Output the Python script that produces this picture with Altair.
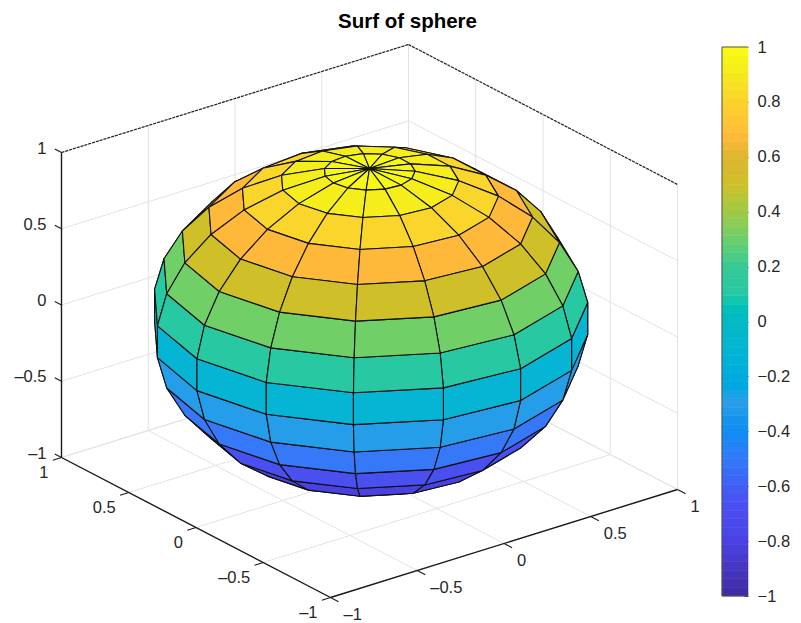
import math
import altair as alt
import pandas as pd

# ---- values ----
latitudes = [90, 78, 66, 54, 42, 30, 18, 6, -6, -18, -30, -42, -54, -66, -78, -90]
longitudes = [-180, -156, -132, -108, -84, -60, -36, -12, 12, 36, 60, 84, 108, 132, 156, 180]
ticks_3d = [-1, -0.5, 0, 0.5, 1]
bar_ticks = [-1, -0.8, -0.6, -0.4, -0.2, 0, 0.2, 0.4, 0.6, 0.8, 1]
bar_levels = [-1 + 2 * k / 64 for k in range(65)]
cmap_values = [-1, -0.8, -0.65, -0.5, -0.3, -0.1, 0, 0.1, 0.2, 0.31, 0.42, 0.5, 0.6, 0.67, 0.81, 0.91, 1]
cmap_colors = ["#3e2ba0", "#4a42e4", "#4a52f2", "#3578f8", "#2a9ee8", "#0ab5d2", "#08b8c4", "#28c8a4",
               "#35ca96", "#72cf68", "#a8c840", "#cfc02a", "#dcb62e", "#ffb93a", "#fad52c", "#f5ed1c", "#f9fb15"]

# ---- view of the 3-D box ----
AX, AY, CX = 173.5, -134.5, 369.5
BX, BY, BZ, CY = -54.0, -70.0, -152.5, 321.0
VIEW = (-0.61, -0.79, 0.0)


def proj(x, y, z):
    return CX + AX * x + AY * y, CY + BX * x + BY * y + BZ * z


def vertex(lat, lon):
    p, t = math.radians(lat), math.radians(lon)
    return math.cos(p) * math.cos(t), math.cos(p) * math.sin(t), math.sin(p)


# ---- faces ----
faces = []
for i in range(len(latitudes) - 1):
    for j in range(len(longitudes) - 1):
        corners = [(latitudes[i], longitudes[j]), (latitudes[i], longitudes[j + 1]),
                   (latitudes[i + 1], longitudes[j + 1]), (latitudes[i + 1], longitudes[j])]
        pts = [vertex(*c) for c in corners]
        depth = sum(p[0] * VIEW[0] + p[1] * VIEW[1] + 0.61 * p[2] for p in pts)
        # flat shading takes the colour of the lower latitude of the face
        level = math.sin(math.radians(latitudes[i + 1]))
        faces.append((depth, pts, level))
faces.sort(key=lambda f: f[0])
rows = []
for n, (depth, pts, level) in enumerate(faces):
    for k, p in enumerate(pts + pts[:1]):
        sx, sy = proj(*p)
        rows.append({"face": n, "k": k, "sx": sx, "sy": sy, "level": level})
surface = pd.DataFrame(rows)


def seg(a, b):
    (x0, y0), (x1, y1) = proj(*a), proj(*b)
    return {"x0": x0, "y0": y0, "x1": x1, "y1": y1}


# ---- grid on the two back walls and the floor ----
grid = []
for t in ticks_3d:
    grid += [seg((t, 1, -1), (t, 1, 1)), seg((1, t, -1), (1, t, 1)),
             seg((t, -1, -1), (t, 1, -1)), seg((-1, t, -1), (1, t, -1))]
    grid += [seg((-1, 1, t), (1, 1, t)), seg((1, -1, t), (1, 1, t))]
box_front = [seg((-1, 1, -1), (-1, 1, 1)), seg((-1, 1, -1), (-1, -1, -1)), seg((-1, -1, -1), (1, -1, -1))]
box_top = [seg((-1, 1, 1), (1, 1, 1)), seg((1, 1, 1), (1, -1, 1))]
tick_marks = []
for t in ticks_3d:
    tick_marks += [seg((t, -1, -1), (t, -1.06, -1)), seg((-1, t, -1), (-1.05, t, -1)),
                   seg((-1, 1, t), (-1, 1.05, t))]


def lab(v):
    return ("\u2013" + format(abs(v), "g")) if v < 0 else format(v, "g")


labels_x = [dict(zip(("sx", "sy"), proj(t, -1, -1)), text=lab(t)) for t in ticks_3d]
labels_y = [dict(zip(("sx", "sy"), proj(-1, t, -1)), text=lab(t)) for t in ticks_3d]
labels_z = [dict(zip(("sx", "sy"), proj(-1, 1, t)), text=lab(t)) for t in ticks_3d]

# ---- scales ----
PX = alt.Scale(domain=[8, 793], range=[0, 785], nice=False, zero=False)
PY = alt.Scale(domain=[8, 623], range=[0, 615], nice=False, zero=False)
CMAP = alt.Scale(domain=cmap_values, range=cmap_colors)
FONT = "Liberation Sans"
INK = "#262626"


def rules(data, **mark):
    return alt.Chart(pd.DataFrame(data)).mark_rule(**mark).encode(
        x=alt.X("x0:Q", scale=PX, axis=None),
        y=alt.Y("y0:Q", scale=PY, axis=None),
        x2="x1:Q", y2="y1:Q")


def texts(data, **mark):
    return alt.Chart(pd.DataFrame(data)).mark_text(font=FONT, fontSize=16.5, color=INK, **mark).encode(
        x=alt.X("sx:Q", scale=PX, axis=None),
        y=alt.Y("sy:Q", scale=PY, axis=None),
        text="text:N")


sphere = alt.Chart(surface).mark_line(stroke="#111111", strokeWidth=1.1, strokeJoin="round").encode(
    x=alt.X("sx:Q", scale=PX, axis=None),
    y=alt.Y("sy:Q", scale=PY, axis=None),
    detail="face:N",
    order="k:Q",
    fill=alt.Fill("level:Q", scale=CMAP, legend=None),
)

scene = alt.layer(
    rules(grid, color="#e2e2e2", strokeWidth=1),
    rules(box_top, color="#222222", strokeWidth=1.2, strokeDash=[3, 1]),
    sphere,
    rules(box_front, color="#1a1a1a", strokeWidth=1.4),
    rules(tick_marks, color="#1a1a1a", strokeWidth=1.1),
    texts(labels_x, align="left", baseline="middle", dx=13, dy=17),
    texts(labels_y, align="right", baseline="middle", dx=-13, dy=15),
    texts(labels_z, align="right", baseline="middle", dx=-15, dy=-4),
)

bar_rows = [{"v0": a, "v1": b, "mid": (a + b) / 2, "x0": 722, "x1": 748}
            for a, b in zip(bar_levels[:-1], bar_levels[1:])]
BAR_Y = alt.Scale(domain=[-1, 1], range=[588, 39], nice=False, zero=False)
bar = alt.Chart(pd.DataFrame(bar_rows)).mark_rect(strokeWidth=0.6).encode(
    x=alt.X("x0:Q", scale=PX, axis=None),
    x2="x1:Q",
    y=alt.Y("v0:Q", scale=BAR_Y, axis=alt.Axis(
        orient="right", offset=-49, values=bar_ticks, title=None, domain=False,
        tickSize=4, tickColor="#333333", tickWidth=1, grid=False,
        labelPadding=9, labelFont=FONT, labelFontSize=16.5, labelColor=INK,
        labelFlush=False, labelOverlap=False,
        labelExpr="replace(format(datum.value, '~g'), '-', '\u2013')")),
    y2="v1:Q",
    fill=alt.Fill("mid:Q", scale=CMAP, legend=None),
    stroke=alt.Stroke("mid:Q", scale=CMAP, legend=None),
)
bar_edges = alt.Chart(pd.DataFrame([
    {"x0": 722, "x1": 722, "v0": -1, "v1": 1},
    {"x0": 722, "x1": 748, "v0": 1, "v1": 1},
    {"x0": 722, "x1": 748, "v0": -1, "v1": -1},
])).mark_rule(color="#555555", strokeWidth=1).encode(
    x=alt.X("x0:Q", scale=PX, axis=None),
    x2="x1:Q",
    y=alt.Y("v0:Q", scale=BAR_Y),
    y2="v1:Q",
)

chart = alt.layer(scene, alt.layer(bar, bar_edges)).resolve_scale(y="independent").properties(
    width=785,
    height=615,
    padding=0,
    autosize=alt.AutoSizeParams(type="none"),
    title=alt.TitleParams("Surf of sphere", font=FONT, fontSize=20.5, fontWeight="bold",
                          color="black", anchor="middle", offset=-24, dx=7),
).configure_view(stroke=None)

chart.save("out.html", embed_options={"renderer": "svg", "actions": False})
